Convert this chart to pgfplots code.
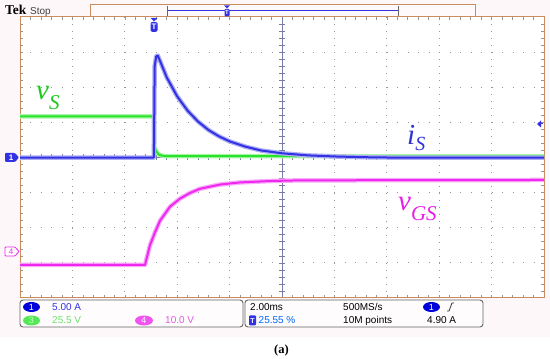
\documentclass[border=0pt]{standalone}
\usepackage{pgfplots}
\pgfplotsset{compat=1.18}
\usepackage{fontspec}
\setmainfont{Liberation Serif}
\setsansfont{Liberation Sans}
\definecolor{chblue}{RGB}{50,50,228}
\definecolor{chgreen}{RGB}{40,228,40}
\definecolor{chmag}{RGB}{238,40,238}
\definecolor{lblgreen}{RGB}{30,200,30}
\definecolor{lblblue}{RGB}{50,50,215}
\definecolor{lblmag}{RGB}{230,30,230}
\definecolor{frame}{RGB}{200,140,95}
\definecolor{gridc}{RGB}{150,150,155}
\definecolor{cross}{RGB}{120,125,165}
\definecolor{bg}{RGB}{253,247,250}
\definecolor{txtgreen}{RGB}{110,225,110}
\definecolor{txtmag}{RGB}{225,90,225}

\begin{document}
\begin{tikzpicture}
\path[use as bounding box] (0,0) rectangle (550pt,359pt);
% screen background and graticule, pixel coordinates (y down)
\begin{scope}[x=1pt,y=-1pt,yshift=359pt]
  \fill[bg] (0,0) rectangle (550,337);
  \fill[white] (20,17) rectangle (544,298);
  \foreach \i in {1,...,9}
    \draw[gridc, line width=1pt, dash pattern=on 1pt off 6.025pt] ({20+52.4*\i},17) -- ({20+52.4*\i},298);
  \foreach \j in {1,...,7}
    \draw[gridc, line width=1pt, dash pattern=on 1pt off 9.48pt] (20,{17+35.125*\j}) -- (544,{17+35.125*\j});
  \foreach \k in {1,...,49} {
    \draw[gridc, line width=0.6pt] ({20+10.48*\k},17) -- ++(0,3);
    \draw[gridc, line width=0.6pt] ({20+10.48*\k},298) -- ++(0,-3);
    \draw[cross, line width=0.6pt] ({20+10.48*\k},154.5) -- ++(0,6);
  }
  \foreach \k in {1,...,39} {
    \draw[gridc, line width=0.6pt] (20,{17+7.025*\k}) -- ++(3,0);
    \draw[gridc, line width=0.6pt] (544,{17+7.025*\k}) -- ++(-3,0);
    \draw[cross, line width=0.6pt] (279,{17+7.025*\k}) -- ++(6,0);
  }
  \draw[cross, line width=0.8pt] (282,17) -- (282,298);
  \draw[cross, line width=0.8pt] (20,157.5) -- (544,157.5);
  \draw[frame, line width=1pt] (20,17) rectangle (544,298);
\end{scope}

\begin{axis}[at={(20pt,61pt)}, anchor=south west, scale only axis,
    width=524pt, height=281pt, xmin=0, xmax=10, ymin=-4, ymax=4,
    axis lines=none, clip=true]
  % v_S (ch3)
  \addplot[chgreen!40, line width=4.5pt, line join=round] coordinates {
    (0,1.17) (2.555,1.17) (2.56,0.3) (2.6,0.18) (2.65,0.08) (2.75,0.04) (10,0.03)};
  \addplot[chgreen, line width=2pt, line join=round] coordinates {
    (0,1.17) (2.555,1.17) (2.56,0.3) (2.6,0.18) (2.65,0.08) (2.75,0.04) (10,0.03)};
  % v_GS (ch4)
  \addplot[chmag!40, line width=4.5pt, line join=round] coordinates {
    (0,-3.06) (2.385,-3.06) (2.48,-2.5) (2.576,-2.13) (2.672,-1.8) (2.863,-1.4)
    (3.053,-1.17) (3.244,-1.01) (3.435,-0.89) (3.817,-0.77) (4.198,-0.71)
    (4.771,-0.67) (5.344,-0.65) (10,-0.64)};
  \addplot[chmag, line width=2pt, line join=round] coordinates {
    (0,-3.06) (2.385,-3.06) (2.48,-2.5) (2.576,-2.13) (2.672,-1.8) (2.863,-1.4)
    (3.053,-1.17) (3.244,-1.01) (3.435,-0.89) (3.817,-0.77) (4.198,-0.71)
    (4.771,-0.67) (5.344,-0.65) (10,-0.64)};
  % i_S (ch1)
  \addplot[chblue!40, line width=4.5pt, line join=round] coordinates {
    (0,0) (2.555,0) (2.57,2.6) (2.6,2.88) (2.63,2.9) (2.7,2.65) (2.8,2.28)
    (3.0,1.74) (3.2,1.33) (3.4,1.02) (3.6,0.78) (3.8,0.6) (4.0,0.46) (4.3,0.31)
    (4.6,0.2) (5.0,0.12) (5.5,0.06) (6.0,0.03) (6.5,0.01) (7,0) (10,0)};
  \addplot[chblue, line width=2pt, line join=round] coordinates {
    (0,0) (2.555,0) (2.57,2.6) (2.6,2.88) (2.63,2.9) (2.7,2.65) (2.8,2.28)
    (3.0,1.74) (3.2,1.33) (3.4,1.02) (3.6,0.78) (3.8,0.6) (4.0,0.46) (4.3,0.31)
    (4.6,0.2) (5.0,0.12) (5.5,0.06) (6.0,0.03) (6.5,0.01) (7,0) (10,0)};
\end{axis}

\begin{scope}[x=1pt,y=-1pt,yshift=359pt]
  % header
  \node[anchor=base west, inner sep=0] at (5,15) {\fontsize{13.5}{14}\selectfont\bfseries Tek};
  \node[anchor=base west, inner sep=0, text=black!75] at (30,15) {\fontsize{10}{11}\selectfont\sffamily Stop};
  \fill[bg!60!white] (90,5) rectangle (475,17);
  \draw[frame, line width=1pt] (90,5) rectangle (475,17);
  \draw[chblue, line width=1pt] (167,11) -- (398,11);
  \draw[black!60, line width=1pt] (167,6) -- (167,16);
  \draw[black!60, line width=1pt] (398,6) -- (398,16);
  \fill[chblue] (224,5.5) -- (230,5.5) -- (227,8.5) -- cycle;
  \fill[chblue, rounded corners=1pt] (224.5,9) rectangle (229.5,16.5);
  \node[text=white, inner sep=0] at (227,12.8) {\fontsize{6}{6}\selectfont\sffamily\bfseries T};
  % trigger position marker
  \fill[chblue] (150.5,18) -- (157.5,18) -- (154,21.5) -- cycle;
  \fill[chblue, rounded corners=1.5pt] (150.5,22) rectangle (157.5,32);
  \node[text=white, inner sep=0] at (154,27) {\fontsize{8}{8}\selectfont\sffamily\bfseries T};
  % trigger level arrow
  \fill[chblue] (537,124) -- (541,120.5) -- (541,127.5) -- cycle;
  \draw[chblue, line width=1pt] (540,124) -- (543,124);
  % channel markers
  \fill[chblue, rounded corners=1pt] (5,153) -- (15,153) -- (19,157.5) -- (15,162) -- (5,162) -- cycle;
  \node[text=white, inner sep=0] at (11,157.7) {\fontsize{8}{8}\selectfont\sffamily\bfseries 1};
  \draw[chmag, fill=white, line width=0.8pt, rounded corners=0.8pt] (5,247) -- (15,247) -- (19,251.5) -- (15,256) -- (5,256) -- cycle;
  \node[text=chmag, inner sep=0] at (11,251.7) {\fontsize{8}{8}\selectfont\sffamily 4};
  % trace labels
  \node[anchor=base west, inner sep=0, text=lblgreen] at (36,100)
    {\fontsize{29}{29}\selectfont\itshape v\raisebox{-10pt}{\fontsize{21}{21}\selectfont S}};
  \node[anchor=base west, inner sep=0, text=lblblue] at (407,145)
    {\fontsize{29}{29}\selectfont\itshape i\raisebox{-6pt}{\fontsize{20}{20}\selectfont S}};
  \node[anchor=base west, inner sep=0, text=lblmag] at (398,211)
    {\fontsize{29}{29}\selectfont\itshape v\raisebox{-10pt}{\fontsize{21}{21}\selectfont GS}};
  % readout boxes
  \draw[black!60, fill=white!60!bg, line width=0.9pt, rounded corners=3pt] (20,300) rectangle (243,327);
  \draw[black!60, fill=white!60!bg, line width=0.9pt, rounded corners=3pt] (245,300) rectangle (483,327);
  \fill[blue!85!black] (31.5,307) ellipse (8.5pt and 5pt);
  \node[text=white, inner sep=0] at (31.5,307.3) {\fontsize{9}{9}\selectfont\sffamily 1};
  \node[anchor=west, inner sep=0, text=chblue] at (52,307) {\fontsize{10}{10}\selectfont\sffamily 5.00 A};
  \fill[chgreen!80!white] (31.5,320.5) ellipse (8.5pt and 5pt);
  \node[text=white!80!green, inner sep=0] at (31.5,320.8) {\fontsize{9}{9}\selectfont\sffamily 3};
  \node[anchor=west, inner sep=0, text=txtgreen] at (52,320.5) {\fontsize{10}{10}\selectfont\sffamily 25.5 V};
  \fill[chmag!80!white] (144,320.5) ellipse (9pt and 5pt);
  \node[text=white, inner sep=0] at (144,320.8) {\fontsize{9}{9}\selectfont\sffamily 4};
  \node[anchor=west, inner sep=0, text=txtmag] at (165,320.5) {\fontsize{10}{10}\selectfont\sffamily 10.0 V};
  \node[anchor=west, inner sep=0] at (250,307) {\fontsize{10}{10}\selectfont\sffamily 2.00ms};
  \fill[chblue, rounded corners=1pt] (249,315.5) rectangle (256,325.5);
  \node[text=white, inner sep=0] at (252.5,320.7) {\fontsize{7}{7}\selectfont\sffamily\bfseries T};
  \node[anchor=west, inner sep=0, text=blue!60!cyan] at (258.5,320.5) {\fontsize{10}{10}\selectfont\sffamily 25.55 \%};
  \node[anchor=west, inner sep=0] at (343,307) {\fontsize{10}{10}\selectfont\sffamily 500MS/s};
  \node[anchor=west, inner sep=0] at (343,320.5) {\fontsize{10}{10}\selectfont\sffamily 10M points};
  \fill[blue!85!black] (431.5,307) ellipse (8.5pt and 5pt);
  \node[text=white, inner sep=0] at (431.5,307.3) {\fontsize{9}{9}\selectfont\sffamily 1};
  \draw[black!80, line width=0.8pt] (447,311) -- (449,311) -- (452,303) -- (454,303);
  \node[anchor=west, inner sep=0] at (427,320.5) {\fontsize{10}{10}\selectfont\sffamily 4.90 A};
  % caption
  \node[anchor=base, inner sep=0] at (281.5,353.5) {\fontsize{12.5}{13}\selectfont\bfseries (a)};
\end{scope}
\end{tikzpicture}
\end{document}
